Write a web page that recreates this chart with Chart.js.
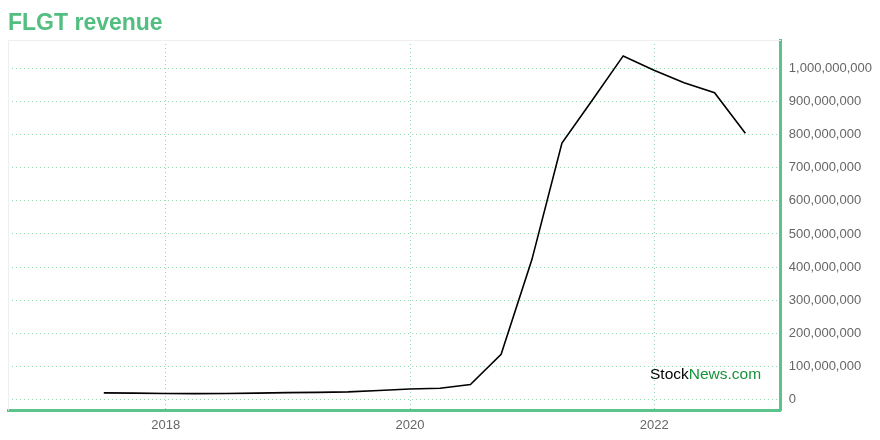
<!DOCTYPE html>
<html lang="en">
<head>
    <meta charset="UTF-8">
    <title>FLGT revenue</title>
    <script src="https://cdn.jsdelivr.net/npm/chart.js"></script>
    <style type="text/css">
        body{
            margin: 0;
            background: #fff;
            font-family: 'Liberation Sans', Arial, sans-serif;
        }
        .wrap{
            position: relative;
            width: 880px;
            height: 440px;
        }
        h1{
            position: absolute;
            left: 8px;
            top: 9px;
            margin: 0;
            font-size: 23px;
            font-weight: bold;
            color: #52be80;
        }
        .mark{
            position: absolute;
            left: 650px;
            top: 365px;
            font-size: 15.5px;
            color: #000;
        }
        .mark span{
            color: #17923a;
        }
    </style>
</head>
<body>
    <div class="wrap">
        <h1>FLGT revenue</h1>
        <canvas id="revChart"></canvas>
        <div class="mark">Stock<span>News.com</span></div>
    </div>

    <script>
        // quarter end dates and trailing revenue
        const dates = ['2017-06-30', '2017-09-30', '2017-12-31', '2018-03-31', '2018-06-30', '2018-09-30',
            '2018-12-31', '2019-03-31', '2019-06-30', '2019-09-30', '2019-12-31', '2020-03-31',
            '2020-06-30', '2020-09-30', '2020-12-31', '2021-03-31', '2021-06-30', '2021-09-30',
            '2021-12-31', '2022-03-31', '2022-06-30', '2022-09-30'];
        const revenue = [21e6, 20e6, 19e6, 18.5e6, 19e6, 20e6,
            21.5e6, 22.5e6, 24e6, 28e6, 32.5e6, 35e6,
            46e6, 137e6, 422e6, 774e6, 904e6, 1037e6,
            994e6, 956e6, 926e6, 804e6];
        const yearTicks = [2018, 2020, 2022];
        const valueTicks = [0, 1e8, 2e8, 3e8, 4e8, 5e8, 6e8, 7e8, 8e8, 9e8, 1e9];

        // date string -> decimal year for the linear x scale
        function toYear(s) {
            const d = new Date(s + 'T00:00:00Z');
            const y = d.getUTCFullYear();
            const start = Date.UTC(y, 0, 1);
            const end = Date.UTC(y + 1, 0, 1);
            return y + (d.getTime() - start) / (end - start);
        }

        const points = dates.map((d, i) => ({ x: toYear(d), y: revenue[i] }));

        const gridGreen = 'rgba(90, 200, 140, 0.65)';
        const axisGreen = '#5cc38b';
        const tickFont = { family: "'Liberation Sans', Arial, sans-serif", size: 13 };

        // light grey top and left edge of the plot
        const frame = {
            id: 'frame',
            beforeDatasetsDraw(chart) {
                const { ctx, chartArea: a } = chart;
                ctx.save();
                ctx.strokeStyle = '#eeeeee';
                ctx.lineWidth = 1;
                ctx.beginPath();
                ctx.moveTo(a.left + 0.5, a.bottom);
                ctx.lineTo(a.left + 0.5, a.top + 0.5);
                ctx.lineTo(a.right, a.top + 0.5);
                ctx.stroke();
                ctx.restore();
            }
        };

        const config = {
            type: 'line',
            data: {
                datasets: [{
                    label: 'Revenue',
                    data: points,
                    borderColor: '#000',
                    borderWidth: 1.6,
                    pointRadius: 0,
                    fill: false,
                    tension: 0
                }]
            },
            options: {
                responsive: true,
                maintainAspectRatio: false,
                animation: false,
                layout: { padding: { left: 8, top: 40, right: 0, bottom: 0 } },
                plugins: {
                    legend: { display: false },
                    tooltip: { enabled: false }
                },
                scales: {
                    x: {
                        type: 'linear',
                        min: 2016.709,
                        max: 2023.036,
                        afterBuildTicks: function(scale) {
                            scale.ticks = yearTicks.map(v => ({ value: v }));
                        },
                        ticks: {
                            color: '#666',
                            font: tickFont,
                            padding: 7,
                            maxRotation: 0,
                            callback: function(value) { return String(value); }
                        },
                        grid: { color: gridGreen, lineWidth: 1, drawTicks: false },
                        border: { color: axisGreen, width: 3, dash: [1, 3] }
                    },
                    y: {
                        position: 'right',
                        min: -3.2e7,
                        max: 1.085e9,
                        afterBuildTicks: function(scale) {
                            scale.ticks = valueTicks.map(v => ({ value: v }));
                        },
                        ticks: {
                            color: '#666',
                            font: tickFont,
                            padding: 8,
                            callback: function(value) { return value.toLocaleString('en-US'); }
                        },
                        grid: { color: gridGreen, lineWidth: 1, drawTicks: false },
                        border: { color: axisGreen, width: 3, dash: [1, 3] }
                    }
                }
            },
            plugins: [frame]
        };

        window.onload = function() {
            new Chart(document.getElementById('revChart'), config);
        };
    </script>
</body>
</html>
